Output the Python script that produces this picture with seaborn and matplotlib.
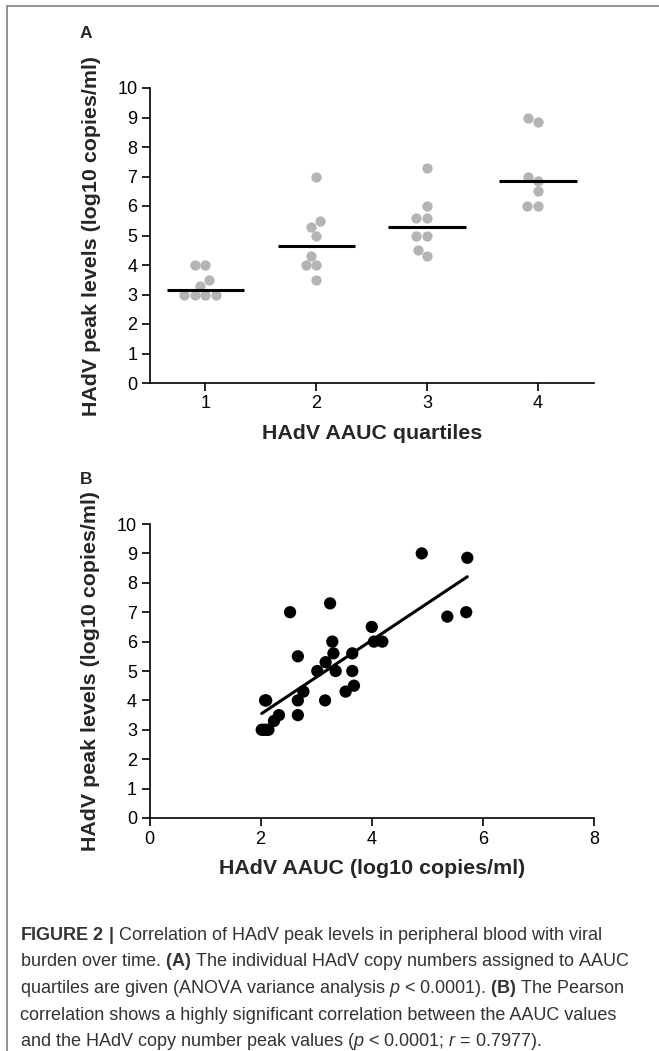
import numpy as np
import pandas as pd
import matplotlib
matplotlib.use("Agg")
import matplotlib.pyplot as plt
from matplotlib.lines import Line2D
import seaborn as sns

# ---------------- data ----------------
quartile_labels = ["1", "2", "3", "4"]
q1_peak = [4.0, 4.0, 3.5, 3.3, 3.0, 3.0, 3.0, 3.0]
q2_peak = [7.0, 5.5, 5.3, 5.0, 4.3, 4.0, 4.0, 3.5]
q3_peak = [7.3, 6.0, 5.6, 5.6, 5.0, 5.0, 4.5, 4.3]
q4_peak = [9.0, 8.85, 7.0, 6.85, 6.5, 6.0, 6.0]

aauc_log = [4.90, 5.72, 2.53, 3.25, 5.36, 5.70, 4.00, 4.04, 4.19, 3.29, 3.31,
            3.65, 2.67, 3.17, 3.02, 3.35, 3.65, 3.68, 3.53, 2.77, 2.67, 3.16,
            2.08, 2.67, 2.33, 2.24, 2.02, 2.14, 2.06, 2.10, 2.10]
peak_log = [9.0, 8.85, 7.0, 7.3, 6.85, 7.0, 6.5, 6.0, 6.0, 6.0, 5.6,
            5.6, 5.5, 5.3, 5.0, 5.0, 5.0, 4.5, 4.3, 4.3, 4.0, 4.0,
            4.0, 3.5, 3.5, 3.3, 3.0, 3.0, 3.0, 3.0, 4.0]

y_ticks = list(range(0, 11))
x_ticks_b = [0, 2, 4, 6, 8]

groups = [q1_peak, q2_peak, q3_peak, q4_peak]
df_a = pd.DataFrame({
    "quartile": np.concatenate([[lab] * len(g) for lab, g in zip(quartile_labels, groups)]),
    "peak": np.concatenate(groups),
})
df_b = pd.DataFrame({"aauc": aauc_log, "peak": peak_log})

# ---------------- style ----------------
sns.set_style("ticks")
plt.rcParams["font.family"] = ["Liberation Sans", "DejaVu Sans"]
plt.rcParams["mathtext.fontset"] = "custom"
plt.rcParams["mathtext.rm"] = "Liberation Sans"
plt.rcParams["mathtext.bf"] = "Liberation Sans:bold"
plt.rcParams["mathtext.it"] = "Liberation Sans:italic"

W, H = 659, 1051
fig = plt.figure(figsize=(W / 100, H / 100), dpi=100)
fig.patch.set_facecolor("white")


def ax_rect(left, top, right, bottom):
    return [left / W, 1 - bottom / H, (right - left) / W, (bottom - top) / H]


ax_a = fig.add_axes(ax_rect(150, 88, 593.5, 383))
ax_b = fig.add_axes(ax_rect(149.5, 524, 594, 818))

tick_fs = 13
label_fs = 15.4

for ax in (ax_a, ax_b):
    for side in ("top", "right"):
        ax.spines[side].set_visible(False)
    for side in ("left", "bottom"):
        ax.spines[side].set_linewidth(1.2)
        ax.spines[side].set_color("black")
    ax.tick_params(axis="both", direction="out", length=6, width=1.2,
                   labelsize=tick_fs, colors="black", pad=3)
    ax.set_facecolor("white")

# ---------------- panel A ----------------
sns.swarmplot(data=df_a, x="quartile", y="peak", order=quartile_labels,
              color="#b4b4b4", size=7.4, ax=ax_a, zorder=2)
medians = [np.median(g) for g in groups]
for i, m in enumerate(medians):
    ax_a.hlines(m, i - 0.35, i + 0.35, color="black", linewidth=2.2, zorder=3)
ax_a.set_xlim(-0.5, 3.5)
ax_a.set_ylim(0, 10)
ax_a.set_yticks(y_ticks)
ax_a.set_xlabel("HAdV AAUC quartiles", fontsize=label_fs, fontweight="bold", labelpad=8)
ax_a.set_ylabel("HAdV peak levels (log10 copies/ml)", fontsize=label_fs,
                fontweight="bold", labelpad=12)

# ---------------- panel B ----------------
sns.regplot(data=df_b, x="aauc", y="peak", ci=None, ax=ax_b,
            scatter_kws=dict(color="black", s=78, edgecolor="none", alpha=1, zorder=3),
            line_kws=dict(color="black", linewidth=2.2, zorder=2))
ax_b.set_xlim(0, 8)
ax_b.set_ylim(0, 10)
ax_b.set_xticks(x_ticks_b)
ax_b.set_yticks(y_ticks)
ax_b.set_xlabel("HAdV AAUC (log10 copies/ml)", fontsize=label_fs, fontweight="bold", labelpad=8)
ax_b.set_ylabel("HAdV peak levels (log10 copies/ml)", fontsize=label_fs,
                fontweight="bold", labelpad=12)

# ---------------- panel letters ----------------
fig.text(86 / W, 1 - 33 / H, "A", fontsize=12.5, fontweight="bold", ha="center", va="center")
fig.text(86 / W, 1 - 480 / H, "B", fontsize=12.5, fontweight="bold", ha="center", va="center")

# ---------------- border ----------------
fig.add_artist(Line2D([7 / W, 1.0], [1 - 6 / H, 1 - 6 / H], transform=fig.transFigure,
                      color="#8a8a8a", linewidth=1.3))
fig.add_artist(Line2D([7 / W, 7 / W], [1 - 6 / H, 0.0], transform=fig.transFigure,
                      color="#8a8a8a", linewidth=1.3))

# ---------------- caption ----------------
caption_lines = [
    r"$\mathbf{FIGURE\ 2\ |}$ Correlation of HAdV peak levels in peripheral blood with viral",
    r"burden over time. $\mathbf{(A)}$ The individual HAdV copy numbers assigned to AAUC",
    r"quartiles are given (ANOVA variance analysis $p$ < 0.0001). $\mathbf{(B)}$ The Pearson",
    r"correlation shows a highly significant correlation between the AAUC values",
    r"and the HAdV copy number peak values ($p$ < 0.0001; $r$ = 0.7977).",
]
y0 = 935
for k, line in enumerate(caption_lines):
    fig.text(20 / W, 1 - (y0 + 26.7 * k) / H, line, fontsize=13, color="#333333",
             ha="left", va="center")

fig.savefig("out.png", dpi=100, facecolor="white")
